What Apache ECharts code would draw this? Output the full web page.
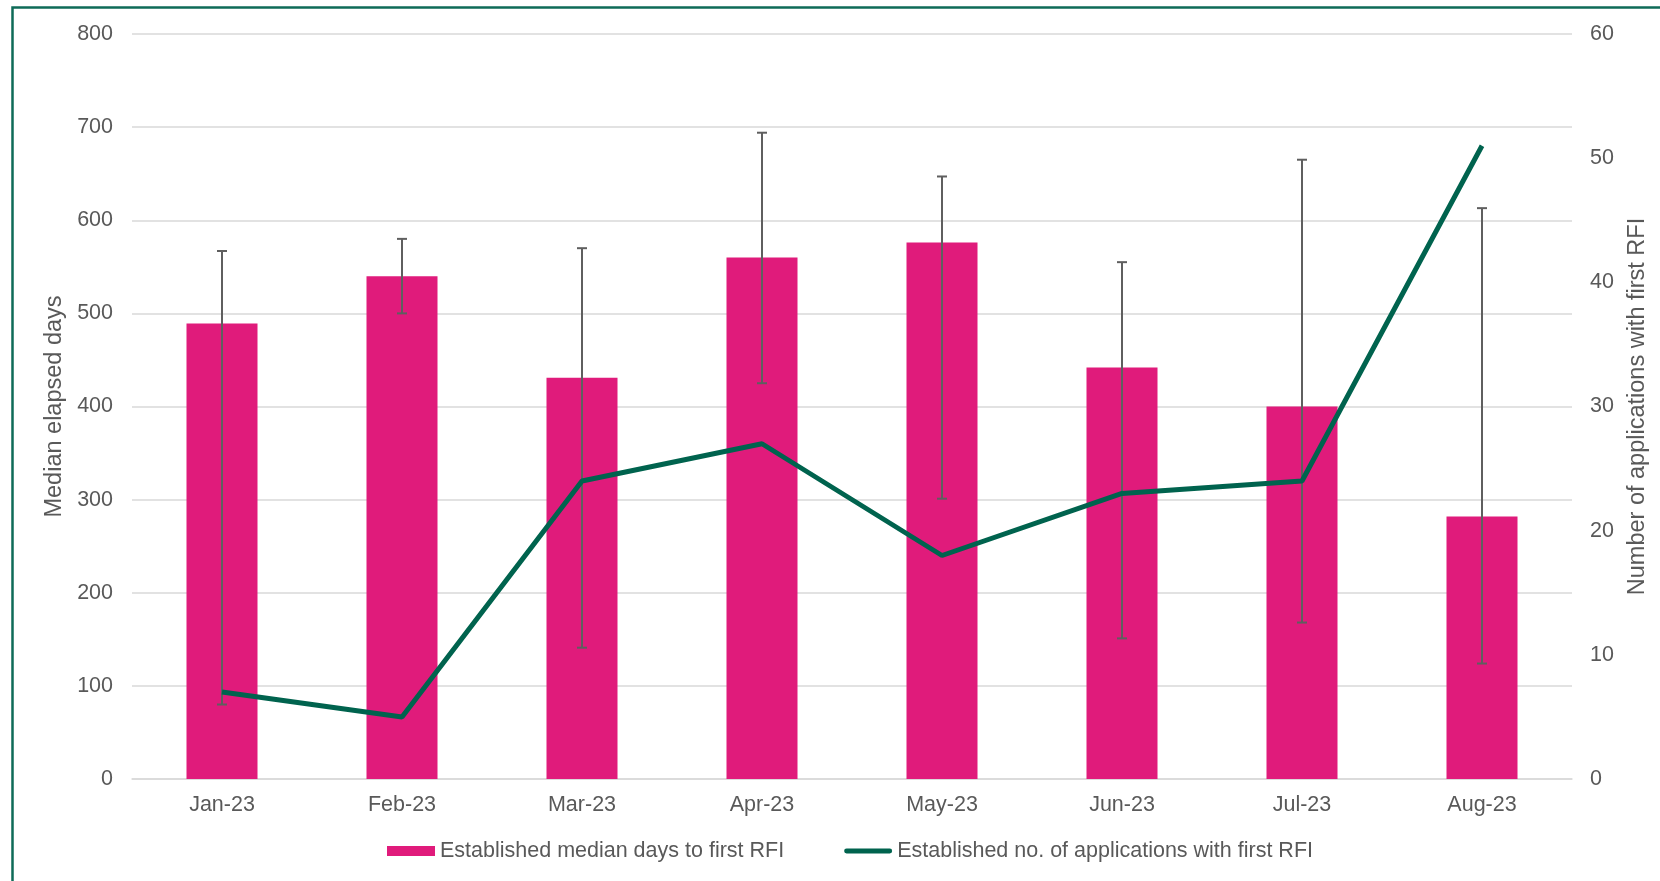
<!DOCTYPE html>
<html>
<head>
<meta charset="utf-8">
<script src="https://cdn.jsdelivr.net/npm/echarts@6/dist/echarts.min.js"></script>
<style>
  html, body { margin: 0; padding: 0; background: #ffffff; }
  #chart { width: 1660px; height: 881px; }
</style>
</head>
<body>
<div id="chart"></div>
<script>
const categories = ['Jan-23', 'Feb-23', 'Mar-23', 'Apr-23', 'May-23', 'Jun-23', 'Jul-23', 'Aug-23'];
const medianDays = [489, 540, 431, 560, 576, 442, 400, 282];
const errHigh = [567, 580, 570, 694, 647, 555, 665, 613];
const errLow = [80, 500, 141, 425, 301, 151, 168, 124];
const applications = [7, 5, 24, 27, 18, 23, 24, 51];
const leftTicks = [0, 100, 200, 300, 400, 500, 600, 700, 800];
const rightTicks = [0, 10, 20, 30, 40, 50, 60];

const FONT = "'Liberation Sans', Arial, sans-serif";
const TXT = '#595959';

const errData = categories.map((c, i) => [i, errLow[i], errHigh[i]]);

const chart = echarts.init(document.getElementById('chart'));
chart.setOption({
  animation: false,
  backgroundColor: '#ffffff',
  textStyle: { fontFamily: FONT },
  graphic: [{
    type: 'rect',
    shape: { x: 12.5, y: 7.5, width: 1700, height: 900 },
    style: { fill: 'none', stroke: '#0E6B58', lineWidth: 2.5 },
    silent: true,
    z: 100
  }],
  grid: { left: 132, right: 88, top: 34, bottom: 102 },
  legend: {
    left: 382,
    top: 835,
    itemWidth: 48,
    itemHeight: 10,
    itemGap: 60,
    textStyle: { fontFamily: FONT, fontSize: 21.5, color: TXT },
    data: [
      { name: 'Established median days to first RFI', icon: 'rect' },
      { name: 'Established no. of applications with first RFI',
        icon: 'path://M0,0M50,10M2.5,2.5L47.5,2.5A2.5,2.5,0,0,1,47.5,7.5L2.5,7.5A2.5,2.5,0,0,1,2.5,2.5Z',
        itemStyle: { color: '#00634E' } }
    ]
  },
  xAxis: {
    type: 'category',
    data: categories,
    axisLine: { show: true, lineStyle: { color: '#d9d9d9', width: 1.5 } },
    axisTick: { show: false },
    axisLabel: { color: TXT, fontSize: 21.5, fontFamily: FONT, margin: 15 }
  },
  yAxis: [{
    type: 'value',
    min: leftTicks[0],
    max: leftTicks[leftTicks.length - 1],
    interval: 100,
    name: 'Median elapsed days',
    nameLocation: 'middle',
    nameRotate: 90,
    nameGap: 57,
    nameTextStyle: { color: TXT, fontSize: 23.5, fontFamily: FONT },
    axisLine: { show: false },
    axisTick: { show: false },
    axisLabel: { color: TXT, fontSize: 21.5, fontFamily: FONT, margin: 19 },
    splitLine: { lineStyle: { color: '#d9d9d9', width: 1.5 } }
  }, {
    type: 'value',
    min: rightTicks[0],
    max: rightTicks[rightTicks.length - 1],
    interval: 10,
    position: 'right',
    name: 'Number of applications with first RFI',
    nameLocation: 'middle',
    nameRotate: 90,
    nameGap: 54,
    nameTextStyle: { color: TXT, fontSize: 23.5, fontFamily: FONT },
    axisLine: { show: false },
    axisTick: { show: false },
    axisLabel: { color: TXT, fontSize: 21.5, fontFamily: FONT, margin: 18 },
    splitLine: { show: false }
  }],
  series: [{
    name: 'Established median days to first RFI',
    type: 'bar',
    yAxisIndex: 0,
    data: medianDays,
    barWidth: 71,
    itemStyle: { color: '#E01B7B' },
    z: 2
  }, {
    name: 'errorbars',
    type: 'custom',
    yAxisIndex: 0,
    data: errData,
    z: 3,
    renderItem: function (params, api) {
      const x = api.value(0);
      const lo = api.coord([x, api.value(1)]);
      const hi = api.coord([x, api.value(2)]);
      const w = 5;
      const style = { stroke: '#5f5f5f', lineWidth: 2 };
      return {
        type: 'group',
        children: [
          { type: 'line', shape: { x1: hi[0], y1: hi[1], x2: lo[0], y2: lo[1] }, style: style },
          { type: 'line', shape: { x1: hi[0] - w, y1: hi[1], x2: hi[0] + w, y2: hi[1] }, style: style },
          { type: 'line', shape: { x1: lo[0] - w, y1: lo[1], x2: lo[0] + w, y2: lo[1] }, style: style }
        ]
      };
    }
  }, {
    name: 'Established no. of applications with first RFI',
    type: 'line',
    yAxisIndex: 1,
    data: applications,
    symbol: 'none',
    lineStyle: { color: '#00634E', width: 5 },
    itemStyle: { color: '#00634E' },
    z: 4
  }]
});
</script>
</body>
</html>
